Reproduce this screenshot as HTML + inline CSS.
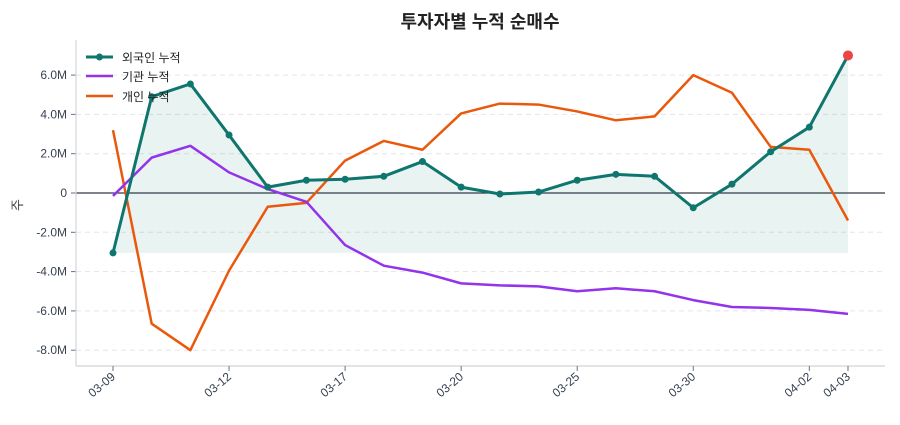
<!DOCTYPE html>
<html><head><meta charset="utf-8"><style>
body{margin:0;background:#fff;font-family:"Liberation Sans","Noto Sans CJK KR",sans-serif;}
svg text{font-family:"Liberation Sans","Noto Sans CJK KR",sans-serif;}
</style></head><body>
<svg id="chart" width="900" height="420">
<text x="480" y="28" text-anchor="middle" font-size="18" font-weight="bold" fill="#222">투자자별 누적 순매수</text>
<text x="22" y="205" text-anchor="middle" font-size="13" fill="#444" transform="rotate(-90 22 205)">주</text>
<g id="grid"></g><g id="area"></g><g id="lines"></g><g id="axes"></g>
<g>
<g><line x1="86" y1="57" x2="113" y2="57" stroke="#0f766e" stroke-width="3"/><circle cx="99.5" cy="57" r="3.5" fill="#0f766e"/><text x="122" y="62" font-size="12" fill="#222">외국인 누적</text></g>
<g><line x1="86" y1="76" x2="113" y2="76" stroke="#9333ea" stroke-width="2.5"/><text x="122" y="81" font-size="12" fill="#222">기관 누적</text></g>
<g><line x1="86" y1="96" x2="113" y2="96" stroke="#ea580c" stroke-width="2.5"/><text x="122" y="101" font-size="12" fill="#222">개인 누적</text></g>
</g>
</svg>
<script>
const dates=["03-09","03-10","03-11","03-12","03-13","03-16","03-17","03-18","03-19","03-20","03-23","03-24","03-25","03-26","03-27","03-30","03-31","04-01","04-02","04-03"];
const tickIdx=[0,3,6,9,12,15,18,19];
const foreign=[-3.05,4.9,5.55,2.95,0.3,0.65,0.7,0.85,1.6,0.3,-0.05,0.05,0.65,0.95,0.85,-0.75,0.45,2.1,3.35,7.0];
const institution=[-0.15,1.8,2.4,1.05,0.2,-0.45,-2.65,-3.7,-4.05,-4.6,-4.7,-4.75,-5.0,-4.85,-5.0,-5.45,-5.8,-5.85,-5.95,-6.15];
const individual=[3.2,-6.65,-8.0,-3.95,-0.7,-0.5,1.65,2.65,2.2,4.05,4.55,4.5,4.15,3.7,3.9,6.0,5.1,2.35,2.2,-1.4];
const yTicks=[-8,-6,-4,-2,0,2,4,6];
const yTickLabels=["-8.0M","-6.0M","-4.0M","-2.0M","0","2.0M","4.0M","6.0M"];
const L=76,R=885,T=40,B=366;
const X=i=>113+i*(848-113)/(dates.length-1);
const Y=v=>193-v*19.65;
const NS="http://www.w3.org/2000/svg";
function mk(p,t,a){const e=document.createElementNS(NS,t);for(const k in a)e.setAttribute(k,a[k]);document.getElementById(p).appendChild(e);return e;}
yTicks.forEach((v,i)=>{
 if(v!==0){const g=mk("grid","line",{x1:L,x2:R,y1:Y(v),y2:Y(v),stroke:"#e3e5e8","stroke-dasharray":"5,4"});
 
 }
 mk("axes","line",{x1:L-5,x2:L,y1:Y(v),y2:Y(v),stroke:"#6b7280"});
 const t=mk("axes","text",{x:L-9,y:Y(v)+4,"text-anchor":"end","font-size":"12",fill:"#374151"});t.textContent=yTickLabels[i];
 
 
});
mk("grid","line",{x1:L,x2:R,y1:Y(0),y2:Y(0),stroke:"#333a45","stroke-width":1.2});
mk("axes","line",{x1:L,x2:L,y1:T,y2:B,stroke:"#d1d5db","stroke-width":1.2});
mk("axes","line",{x1:L,x2:R,y1:B,y2:B,stroke:"#d1d5db","stroke-width":1.2});
tickIdx.forEach(i=>{
 mk("axes","line",{x1:X(i),x2:X(i),y1:B,y2:B+5,stroke:"#6b7280"});
 const t=mk("axes","text",{x:X(i)+3,y:B+12,"text-anchor":"end","font-size":"12",fill:"#374151",transform:`rotate(-40 ${X(i)+3} ${B+12})`});t.textContent=dates[i];
 
 
});
const base=Math.min(...foreign);
let d=`M${X(0)},${Y(base)} `+foreign.map((v,i)=>`L${X(i)},${Y(v)}`).join(" ")+` L${X(foreign.length-1)},${Y(base)}Z`;
const a=mk("area","path",{d,fill:"#0f766e","fill-opacity":0.09});


function line(arr,c,w,name){const p=mk("lines","polyline",{points:arr.map((v,i)=>X(i)+","+Y(v)).join(" "),fill:"none",stroke:c,"stroke-width":w,"stroke-linejoin":"round"});
 
 }
line(individual,"#ea580c",2.5,"individual-line");
line(institution,"#9333ea",2.5,"institution-line");
line(foreign,"#0f766e",3,"foreign-line");
foreign.forEach((v,i)=>{const last=i===foreign.length-1;
 const c=mk("lines","circle",{cx:X(i),cy:Y(v),r:last?5:3.5,fill:last?"#ef4444":"#0f766e"});
 
 });
</script>
</body></html>
